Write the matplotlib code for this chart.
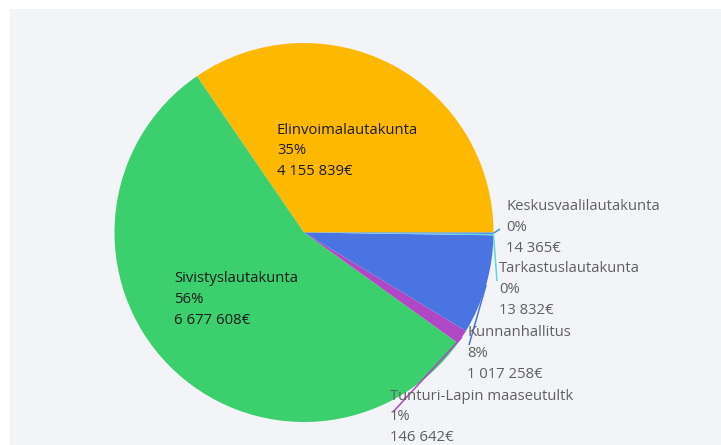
import numpy as np
import matplotlib.pyplot as plt
from matplotlib.patches import Rectangle

# budget per committee (EUR), pie order counter-clockwise from 3 o'clock
names = [
    "Elinvoimalautakunta",
    "Sivistyslautakunta",
    "Tunturi-Lapin maaseutultk",
    "Kunnanhallitus",
    "Tarkastuslautakunta",
    "Keskusvaalilautakunta",
]
amounts = [4155839, 6677608, 146642, 1017258, 13832, 14365]
colors = ["#ffb800", "#3ccf6e", "#b047c4", "#4a74e2", "#5fd6e2", "#3f8ee8"]

W, H = 721, 445
CX, CY, R = 304, 232.5, 189.5

# label layout (pixel positions of the first text line)
label_pos = {
    "Elinvoimalautakunta": (277, 130),
    "Sivistyslautakunta": (174, 279),
    "Tunturi-Lapin maaseutultk": (390, 396),
    "Kunnanhallitus": (467, 333),
    "Tarkastuslautakunta": (499, 269),
    "Keskusvaalilautakunta": (506, 207),
}
leader_end = {
    "Tunturi-Lapin maaseutultk": (393, 412),
    "Kunnanhallitus": (469, 345),
    "Tarkastuslautakunta": (497, 281),
    "Keskusvaalilautakunta": (500, 229),
}
inside = ["Elinvoimalautakunta", "Sivistyslautakunta"]
LINE_STEP = 20.6


def fmt_eur(v):
    return f"{v:,}".replace(",", " ") + "€"


def to_data(x, y):
    return (x - CX) / R, (CY - y) / R


fig = plt.figure(figsize=(W / 100, H / 100), dpi=100)
fig.patch.set_facecolor("white")
fig.patches.append(Rectangle((10 / W, 0), 1 - 10 / W, 1 - 9 / H,
                             transform=fig.transFigure, facecolor="#f3f4f8",
                             edgecolor="none", zorder=-5))

ax = fig.add_axes([(CX - R) / W, (H - CY - R) / H, 2 * R / W, 2 * R / H])
ax.set_facecolor("none")
wedges, _ = ax.pie(amounts, colors=colors, startangle=0, counterclock=True,
                   radius=1.0, wedgeprops=dict(linewidth=0))
ax.set_xlim(-1, 1)
ax.set_ylim(-1, 1)
ax.set_aspect("equal")
ax.axis("off")

total = sum(amounts)
font = ["Open Sans", "DejaVu Sans"]
for name, amt, col, w in zip(names, amounts, colors, wedges):
    pct = f"{round(100 * amt / total):.0f}%"
    lines = [name, pct, fmt_eur(amt)]
    lx, ly = label_pos[name]
    if name in inside:
        tcol = "#1c1c1c"
    else:
        tcol = "#606060"
        mid = np.deg2rad((w.theta1 + w.theta2) / 2)
        ex, ey = to_data(*leader_end[name])
        ax.plot([np.cos(mid), ex], [np.sin(mid), ey], color=col, lw=1.1,
                solid_capstyle="butt", clip_on=False)
    for i, t in enumerate(lines):
        fig.text(lx / W, 1 - (ly + i * LINE_STEP) / H, t, ha="left",
                 va="center", fontsize=10.7, color=tcol, family=font)

fig.savefig("out.png", dpi=100)
